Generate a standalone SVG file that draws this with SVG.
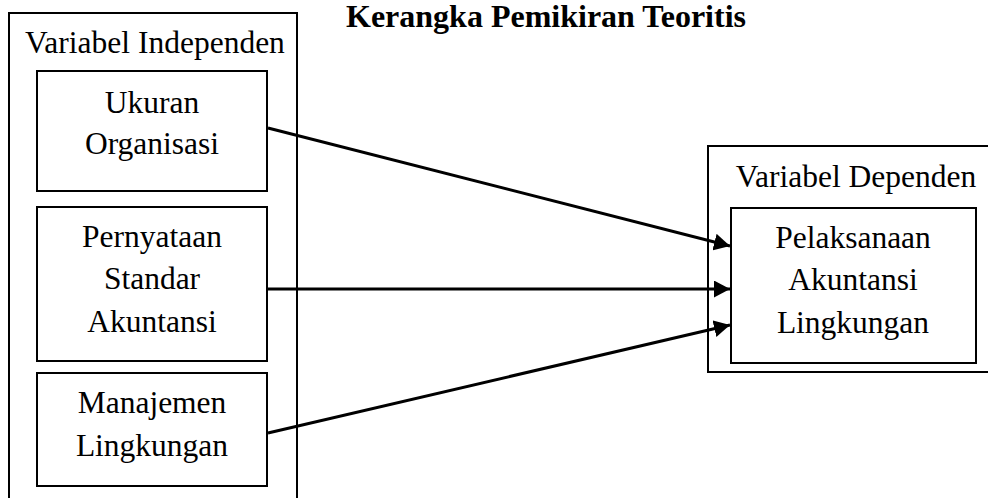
<svg xmlns="http://www.w3.org/2000/svg" width="988" height="498" viewBox="0 0 988 498">
<style>
.box{fill:none;stroke:#000;stroke-width:2}
.t{font-family:"Liberation Serif","Times New Roman",Times,serif;font-size:31.5px;fill:#000;text-anchor:middle}
.title{font-family:"Liberation Serif","Times New Roman",Times,serif;font-size:32px;font-weight:bold;fill:#000;text-anchor:middle}
.conn{stroke:#000;stroke-width:3;fill:none}
</style>
<defs>
<marker id="ah" markerUnits="userSpaceOnUse" markerWidth="17" markerHeight="17" refX="16" refY="8.5" orient="auto" viewBox="0 0 17 17">
<path d="M0,0 L16,8.5 L0,17 Z" fill="#000"/>
</marker>
</defs>
<rect width="988" height="498" fill="#fff"/>
<text class="title" x="546" y="27">Kerangka Pemikiran Teoritis</text>
<g id="independen">
<rect class="box" x="9" y="13" width="288" height="500"/>
<text class="t" x="155" y="53">Variabel Independen</text>
</g>
<g id="ukuran">
<rect class="box" x="37" y="71" width="230" height="120"/>
<text class="t" x="152" y="113">Ukuran</text>
<text class="t" x="152" y="154">Organisasi</text>
</g>
<g id="pernyataan">
<rect class="box" x="37" y="207" width="230" height="154"/>
<text class="t" x="152" y="247">Pernyataan</text>
<text class="t" x="152" y="289">Standar</text>
<text class="t" x="152" y="332">Akuntansi</text>
</g>
<g id="manajemen">
<rect class="box" x="37" y="373" width="230" height="113"/>
<text class="t" x="152" y="413">Manajemen</text>
<text class="t" x="152" y="456">Lingkungan</text>
</g>
<g id="dependen">
<rect class="box" x="708" y="146" width="300" height="226"/>
<text class="t" x="856" y="187">Variabel Dependen</text>
</g>
<g id="pelaksanaan">
<rect class="box" x="731" y="208" width="245" height="155"/>
<text class="t" x="853" y="248">Pelaksanaan</text>
<text class="t" x="853" y="290">Akuntansi</text>
<text class="t" x="853" y="333">Lingkungan</text>
</g>
<g id="connectors">
<line class="conn" x1="268" y1="128" x2="730" y2="246" marker-end="url(#ah)"/>
<line class="conn" x1="268" y1="289" x2="730" y2="289" marker-end="url(#ah)"/>
<line class="conn" x1="268" y1="433" x2="730" y2="325" marker-end="url(#ah)"/>
</g>
</svg>
